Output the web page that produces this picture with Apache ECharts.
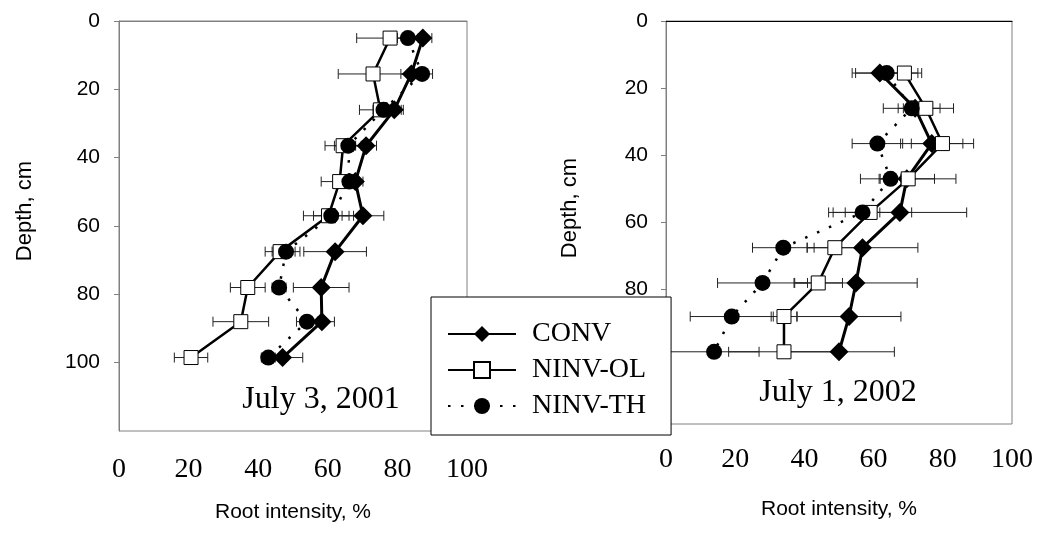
<!DOCTYPE html>
<html>
<head>
<meta charset="utf-8">
<script src="https://cdn.jsdelivr.net/npm/echarts@6/dist/echarts.min.js"></script>
<style>
  html, body { margin: 0; padding: 0; background: #fff; }
  #chart { width: 1040px; height: 538px; }
</style>
</head>
<body>
<div id="chart"></div>
<script>
// July 3, 2001
const depths01 = [5, 15.5, 26, 36.5, 47, 57, 67.5, 78, 88, 98.5];
const conv01 = [87.3, 84.0, 79.1, 71.0, 67.9, 70.1, 62.1, 58.1, 58.3, 47.0];
const convErr01 = [2.6, 3, 2.6, 3, 2.2, 6, 9, 8, 3.6, 5.8];
const ol01 = [77.9, 73.0, 75.1, 64.4, 63.4, 60.2, 46.3, 37.0, 35.0, 20.7];
const olErr01 = [9.6, 10, 6, 5.2, 5.3, 7.2, 4.3, 5, 8, 4.8];
const th01 = [83.0, 87.1, 76.0, 65.9, 66.2, 61.0, 48.0, 46.0, 54.0, 42.9];
const thErr01 = [3, 3, 3, 4, 2, 5.1, 4, 2, 3, 2];

// July 1, 2002
const depths02 = [15.5, 26, 36.5, 47, 57, 67.5, 78, 88, 98.5];
const conv02 = [61.8, 72.0, 76.8, 69.6, 67.6, 56.8, 54.9, 52.9, 50.0];
const convErr02 = [8, 3.4, 9, 8, 19.3, 16, 17.7, 15, 16];
const ol02 = [68.9, 75.1, 79.9, 70.0, 59.0, 48.8, 44.0, 34.1, 34.1];
const olErr02 = [5, 8, 9, 13.8, 12, 8, 7, 3.7, 16];
const th02 = [63.8, 71.0, 61.1, 64.9, 56.8, 33.9, 27.9, 19.0, 13.9];
const thErr02 = [9, 8.2, 7.3, 3, 5, 8.9, 13, 12, 13];

const xTicks = [0, 20, 40, 60, 80, 100];
const yTicks = [0, 20, 40, 60, 80, 100];
const seriesNames = ['CONV', 'NINV-OL', 'NINV-TH'];
const panelTitles = ['July 3, 2001', 'July 1, 2002'];

const SANS = 'Liberation Sans, Arial, sans-serif';
const SERIF = 'Liberation Serif, Times New Roman, serif';

function pts(xs, depths) {
  return xs.map((x, i) => [x, depths[i]]);
}
function errData(xs, errs, depths) {
  return xs.map((x, i) => [depths[i], x - errs[i], x + errs[i]]);
}

function errorBars(idx, data) {
  return {
    type: 'custom',
    xAxisIndex: idx,
    yAxisIndex: idx,
    z: 1,
    silent: true,
    encode: { x: [1, 2], y: 0 },
    data: data,
    renderItem: function (params, api) {
      const d = api.value(0);
      const p1 = api.coord([api.value(1), d]);
      const p2 = api.coord([api.value(2), d]);
      const st = { stroke: '#222', lineWidth: 1 };
      return {
        type: 'group',
        children: [
          { type: 'line', shape: { x1: p1[0], y1: p1[1], x2: p2[0], y2: p2[1] }, style: st },
          { type: 'line', shape: { x1: p1[0], y1: p1[1] - 5, x2: p1[0], y2: p1[1] + 5 }, style: st },
          { type: 'line', shape: { x1: p2[0], y1: p2[1] - 5, x2: p2[0], y2: p2[1] + 5 }, style: st }
        ]
      };
    }
  };
}

function lineSeries(idx, name, data) {
  const s = {
    type: 'line',
    name: name,
    xAxisIndex: idx,
    yAxisIndex: idx,
    data: data,
    z: 3
  };
  if (name === 'CONV') {
    s.symbol = 'diamond';
    s.symbolSize = 19;
    s.itemStyle = { color: '#000' };
    s.lineStyle = { color: '#000', width: 3 };
  } else if (name === 'NINV-OL') {
    s.symbol = 'rect';
    s.symbolSize = 14;
    s.itemStyle = { color: '#fff', borderColor: '#000', borderWidth: 1 };
    s.lineStyle = { color: '#000', width: 2.5 };
  } else {
    s.symbol = 'circle';
    s.symbolSize = 16;
    s.itemStyle = { color: '#000' };
    s.lineStyle = { color: '#000', width: 2.5, type: [2.5, 10.5] };
  }
  return s;
}

function xAxisOf(idx, gap, margin) {
  return {
    gridIndex: idx,
    type: 'value',
    position: 'bottom',
    min: 0, max: 100, interval: 20,
    axisLine: { show: true, lineStyle: { color: '#808080' } },
    axisTick: { show: false },
    splitLine: { show: false },
    axisLabel: { margin: margin, fontFamily: SERIF, fontSize: 28, color: '#000', customValues: xTicks },
    name: 'Root intensity, %',
    nameLocation: 'middle',
    nameGap: gap,
    nameTextStyle: { fontFamily: SANS, fontSize: 21, color: '#000' }
  };
}

function yAxisOf(idx, margin) {
  return {
    gridIndex: idx,
    type: 'value',
    inverse: true,
    min: 0, max: 120, interval: 20,
    axisLine: { show: true, lineStyle: { color: '#808080' } },
    axisTick: { show: true, inside: false, length: 5, lineStyle: { color: '#808080' }, customValues: yTicks },
    splitLine: { show: false },
    axisLabel: { margin: margin, fontFamily: SANS, fontSize: 21, color: '#000', customValues: yTicks }
  };
}

const chart = echarts.init(document.getElementById('chart'));
chart.setOption({
  animation: false,
  backgroundColor: '#fff',
  grid: [
    { left: 119, top: 21, width: 348, height: 410, show: true, borderColor: '#808080', borderWidth: 1 },
    { left: 666, top: 21, width: 346, height: 403, show: true, borderColor: '#808080', borderWidth: 1 }
  ],
  xAxis: [
    xAxisOf(0, 71, 25),
    xAxisOf(1, 75, 22),
    {
      gridIndex: 1, type: 'value', position: 'top', min: 0, max: 100,
      axisLine: { show: true, lineStyle: { color: '#000' } },
      axisTick: { show: false }, axisLabel: { show: false }, splitLine: { show: false }
    }
  ],
  yAxis: [yAxisOf(0, 19), yAxisOf(1, 18)],
  legend: {
    data: seriesNames,
    orient: 'vertical',
    left: 431,
    top: 297,
    padding: [23, 25, 15, 16],
    itemWidth: 68,
    itemHeight: 20,
    itemGap: 8,
    backgroundColor: '#fff',
    borderColor: '#000',
    borderWidth: 1,
    borderRadius: 0,
    selectedMode: false,
    textStyle: { fontFamily: SERIF, fontSize: 28, color: '#000', lineHeight: 28, padding: [0, 0, 0, 11] }
  },
  graphic: [
    { type: 'text', rotation: Math.PI / 2, x: 25, y: 211,
      style: { text: 'Depth, cm', fontFamily: SANS, fontSize: 22, fill: '#000', align: 'center', verticalAlign: 'middle' } },
    { type: 'text', rotation: Math.PI / 2, x: 570, y: 208,
      style: { text: 'Depth, cm', fontFamily: SANS, fontSize: 22, fill: '#000', align: 'center', verticalAlign: 'middle' } },
    { type: 'text', x: 321, y: 400, z: 5,
      style: { text: panelTitles[0], fontFamily: SERIF, fontSize: 32, fill: '#000', align: 'center', verticalAlign: 'middle' } },
    { type: 'text', x: 838, y: 393, z: 5,
      style: { text: panelTitles[1], fontFamily: SERIF, fontSize: 32, fill: '#000', align: 'center', verticalAlign: 'middle' } }
  ],
  series: [
    errorBars(0, errData(conv01, convErr01, depths01)),
    errorBars(0, errData(ol01, olErr01, depths01)),
    errorBars(0, errData(th01, thErr01, depths01)),
    errorBars(1, errData(conv02, convErr02, depths02)),
    errorBars(1, errData(ol02, olErr02, depths02)),
    errorBars(1, errData(th02, thErr02, depths02)),
    lineSeries(0, 'CONV', pts(conv01, depths01)),
    lineSeries(0, 'NINV-OL', pts(ol01, depths01)),
    lineSeries(0, 'NINV-TH', pts(th01, depths01)),
    lineSeries(1, 'CONV', pts(conv02, depths02)),
    lineSeries(1, 'NINV-OL', pts(ol02, depths02)),
    lineSeries(1, 'NINV-TH', pts(th02, depths02))
  ]
});
</script>
</body>
</html>
